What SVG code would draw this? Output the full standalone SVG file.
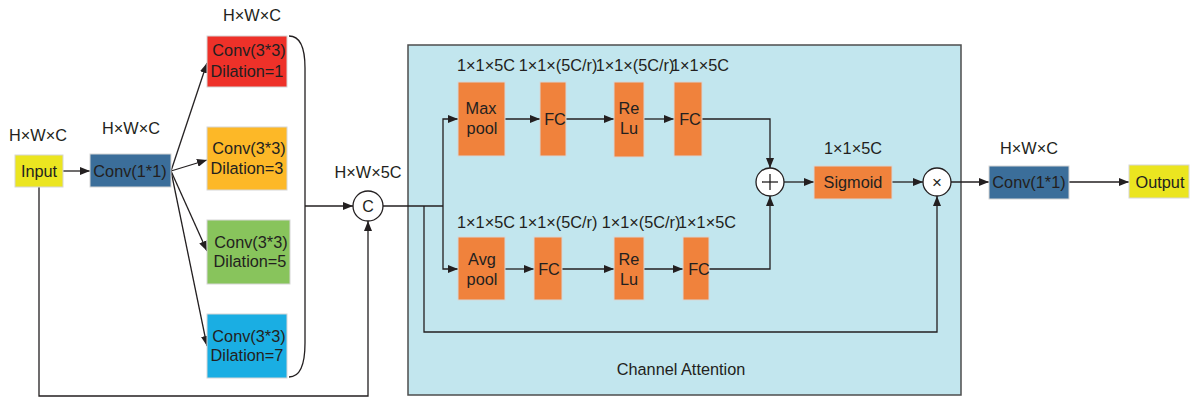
<svg xmlns="http://www.w3.org/2000/svg" width="1190" height="399" viewBox="0 0 1190 399">
<defs>
<marker id="ah" viewBox="0 0 10 8" refX="10" refY="4" markerWidth="10" markerHeight="8" markerUnits="userSpaceOnUse" orient="auto">
<path d="M0,0 L10,4 L0,8 Z" fill="#231f20"/>
</marker>
<style>
text{font-family:"Liberation Sans",Arial,sans-serif;font-size:16.3px;fill:#231f20;text-anchor:middle}
.box{stroke:#d6d6d6;stroke-width:1}
.ln{fill:none;stroke:#231f20;stroke-width:1.3}
.ar{fill:none;stroke:#231f20;stroke-width:1.3;marker-end:url(#ah)}
.circ{fill:#fff;stroke:#231f20;stroke-width:1.3}
</style>
</defs>
<rect width="1190" height="399" fill="#fff"/>
<g id="channel-attention">
<rect x="408" y="45" width="553" height="350" fill="#c2e6ee" stroke="#4d4d4d" stroke-width="1.5"/>
<text x="681" y="375">Channel Attention</text>
</g>
<g id="connectors">
<line class="ar" x1="63" y1="171" x2="90" y2="171"/>
<line class="ar" x1="171" y1="171" x2="207" y2="63"/>
<line class="ar" x1="171" y1="171" x2="207" y2="160"/>
<line class="ar" x1="171" y1="171" x2="207" y2="251"/>
<line class="ar" x1="171" y1="171" x2="207" y2="346"/>
<path class="ln" d="M289,36 C300,36 305,48 305,68 L305,343 C305,365 300,377 289,377"/>
<line class="ar" x1="305" y1="206" x2="353" y2="206"/>
<path class="ar" d="M39,187 L39,396 L368,396 L368,221"/>
<line class="ln" x1="383" y1="206" x2="443" y2="206"/>
<path class="ar" d="M443,206 L443,119 L458,119"/>
<path class="ar" d="M443,206 L443,269 L458,269"/>
<path class="ar" d="M424,206 L424,332 L937,332 L937,196"/>
<line class="ar" x1="505" y1="119" x2="540" y2="119"/>
<line class="ar" x1="566" y1="119" x2="614" y2="119"/>
<line class="ar" x1="644" y1="119" x2="674" y2="119"/>
<path class="ar" d="M702,119 L770,119 L770,168"/>
<line class="ar" x1="505" y1="269" x2="534" y2="269"/>
<line class="ar" x1="562" y1="269" x2="614" y2="269"/>
<line class="ar" x1="644" y1="269" x2="683" y2="269"/>
<path class="ar" d="M709,269 L770,269 L770,196"/>
<line class="ar" x1="784" y1="182" x2="814" y2="182"/>
<line class="ar" x1="892" y1="182" x2="923" y2="182"/>
<line class="ar" x1="951" y1="182" x2="989" y2="182"/>
<line class="ar" x1="1069" y1="182" x2="1129" y2="182"/>
</g>
<g id="input">
<text x="38" y="141">H×W×C</text>
<rect class="box" x="15" y="155" width="48" height="32" fill="#ebe520"/>
<text x="39" y="177">Input</text>
</g>
<g id="conv1">
<text x="131" y="134">H×W×C</text>
<rect class="box" x="90" y="154" width="81" height="33" fill="#3b6e9a"/>
<text x="130" y="177">Conv(1*1)</text>
</g>
<g id="conv-d1">
<text x="252" y="21">H×W×C</text>
<rect class="box" x="207" y="36" width="80" height="51" fill="#ee3129"/>
<text x="249" y="56">Conv(3*3)</text>
<text x="247" y="77">Dilation=1</text>
</g>
<g id="conv-d3">
<rect class="box" x="207" y="127" width="80" height="63" fill="#fdb827"/>
<text x="249" y="154">Conv(3*3)</text>
<text x="247" y="174">Dilation=3</text>
</g>
<g id="conv-d5">
<rect class="box" x="207" y="220" width="83" height="64" fill="#88c45c"/>
<text x="251" y="248">Conv(3*3)</text>
<text x="250" y="267">Dilation=5</text>
</g>
<g id="conv-d7">
<rect class="box" x="207" y="314" width="80" height="64" fill="#1aaee3"/>
<text x="249" y="342">Conv(3*3)</text>
<text x="247" y="361">Dilation=7</text>
</g>
<g id="concat">
<text x="368" y="178">H×W×5C</text>
<circle class="circ" cx="368" cy="206" r="15"/>
<text x="368" y="212" style="font-size:16px">C</text>
</g>
<g id="top-labels">
<text x="486" y="71">1×1×5C</text>
<text x="558" y="71">1×1×(5C/r)</text>
<text x="635" y="71">1×1×(5C/r)</text>
<text x="700" y="71">1×1×5C</text>
</g>
<g id="maxpool">
<rect class="box" x="458" y="82" width="47" height="74" fill="#f0823c"/>
<text x="481" y="114">Max</text>
<text x="482" y="134">pool</text>
</g>
<g id="fc1">
<rect class="box" x="540" y="82" width="26" height="74" fill="#f0823c"/>
<text x="555" y="125">FC</text>
</g>
<g id="relu1">
<rect class="box" x="614" y="82" width="30" height="75" fill="#f0823c"/>
<text x="629" y="114">Re</text>
<text x="629" y="134">Lu</text>
</g>
<g id="fc2">
<rect class="box" x="674" y="82" width="28" height="74" fill="#f0823c"/>
<text x="690" y="125">FC</text>
</g>
<g id="bottom-labels">
<text x="486" y="228">1×1×5C</text>
<text x="558" y="228">1×1×(5C/r)</text>
<text x="641" y="228">1×1×(5C/r)</text>
<text x="707" y="228">1×1×5C</text>
</g>
<g id="avgpool">
<rect class="box" x="458" y="237" width="47" height="63" fill="#f0823c"/>
<text x="482" y="265">Avg</text>
<text x="482" y="285">pool</text>
</g>
<g id="fc3">
<rect class="box" x="534" y="237" width="28" height="63" fill="#f0823c"/>
<text x="549" y="275">FC</text>
</g>
<g id="relu2">
<rect class="box" x="614" y="237" width="30" height="63" fill="#f0823c"/>
<text x="629" y="265">Re</text>
<text x="629" y="285">Lu</text>
</g>
<g id="fc4">
<rect class="box" x="683" y="237" width="26" height="63" fill="#f0823c"/>
<text x="699" y="275">FC</text>
</g>
<g id="add">
<circle class="circ" cx="770" cy="182" r="14"/>
<line class="ln" x1="762" y1="182" x2="778" y2="182" stroke-width="1"/>
<line class="ln" x1="770" y1="174" x2="770" y2="190" stroke-width="1"/>
</g>
<g id="sigmoid">
<text x="853" y="154">1×1×5C</text>
<rect class="box" x="814" y="166" width="78" height="33" fill="#f0823c"/>
<text x="853" y="188">Sigmoid</text>
</g>
<g id="mul">
<circle class="circ" cx="937" cy="182" r="14"/>
<text x="937" y="188" style="font-size:17px">×</text>
</g>
<g id="conv-out">
<text x="1029" y="154">H×W×C</text>
<rect class="box" x="989" y="166" width="80" height="33" fill="#3b6e9a"/>
<text x="1029" y="188">Conv(1*1)</text>
</g>
<g id="output">
<rect class="box" x="1129" y="165" width="60" height="33" fill="#ebe520"/>
<text x="1160" y="188">Output</text>
</g>
</svg>
